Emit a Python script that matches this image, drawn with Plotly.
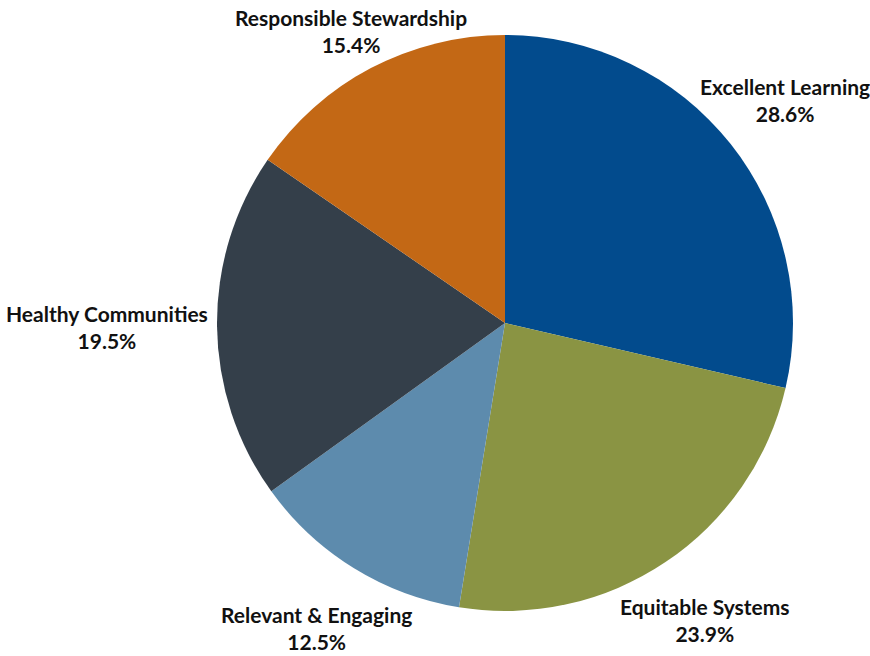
import math
import plotly.graph_objects as go

# Share of funding by strategic priority (percent)
categories = ["Excellent Learning", "Equitable Systems", "Relevant & Engaging",
              "Healthy Communities", "Responsible Stewardship"]
shares = [28.6, 23.9, 12.5, 19.5, 15.4]
colors = ["#024B8D", "#8A9443", "#5D8BAD", "#343F4A", "#C36815"]

# Layout: canvas, pie centre/radius in pixels, label distance from centre
W, H = 870, 656
cx, cy, r = 505, 323, 288
label_dist = [358, 358, 358, 398, 330]

fig = go.Figure(go.Pie(
    labels=categories,
    values=shares,
    sort=False,
    direction="clockwise",
    rotation=0,
    marker=dict(colors=colors, line=dict(width=0)),
    textinfo="none",
    showlegend=False,
    hoverinfo="label+value",
    domain=dict(x=[(cx - r) / W, (cx + r) / W],
                y=[(H - cy - r) / H, (H - cy + r) / H]),
))

# Outside labels placed along each slice's mid-angle (clockwise from 12 o'clock)
total = sum(shares)
cum = 0.0
for name, val, d in zip(categories, shares, label_dist):
    mid = (cum + val / 2) / total * 2 * math.pi
    cum += val
    px = cx + d * math.sin(mid)
    py = cy - d * math.cos(mid)
    fig.add_annotation(
        x=px / W, y=1 - py / H, xref="paper", yref="paper",
        text=f"<b>{name}</b><br><b>{val:.1f}%</b>",
        showarrow=False, xanchor="center", yanchor="middle", align="center",
        font=dict(family="Lato, Open Sans, sans-serif", size=21, color="#111111"),
    )

fig.update_layout(
    width=W, height=H,
    margin=dict(l=0, r=0, t=0, b=0),
    paper_bgcolor="white",
    plot_bgcolor="white",
)

fig.write_html("out.html")
